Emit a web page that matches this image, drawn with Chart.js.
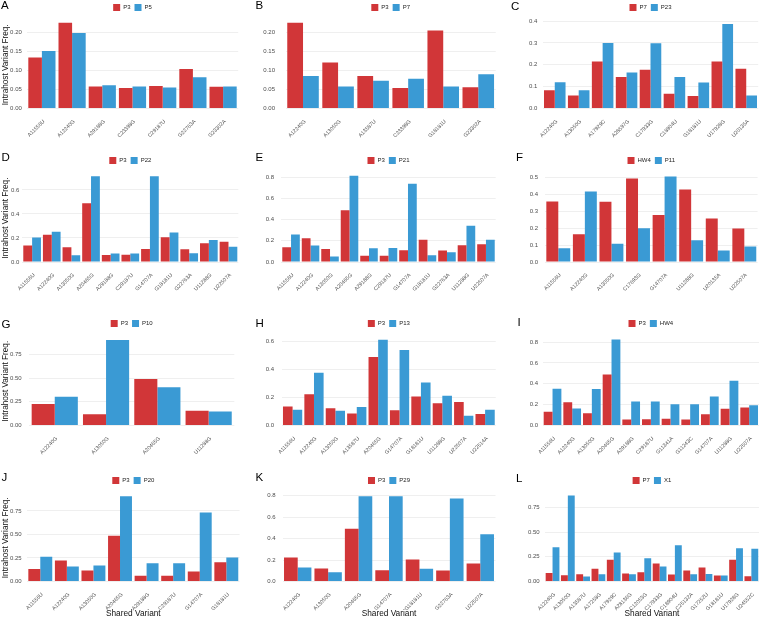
<!DOCTYPE html>
<html>
<head>
<meta charset="utf-8">
<script src="https://cdn.jsdelivr.net/npm/chart.js@4.4.1/dist/chart.umd.min.js"></script>
<style>
  body { margin: 0; background: #fff; width: 762px; height: 619px; overflow: hidden; position: relative; font-family: "Liberation Sans", Arial, sans-serif; }
  canvas { position: absolute; }
  .tag { position: absolute; font-size: 11.5px; line-height: 11.5px; color: #000; }
</style>
</head>
<body>
<script>
// ---- data ----
const catsA = ["A11556U", "A12240G", "A29188G", "C23398G", "C29187U", "G22763A", "G23302A"];
const namesA = ["P3", "P5"];
const firstA = [0.134, 0.225, 0.058, 0.054, 0.059, 0.104, 0.057];
const secondA = [0.151, 0.198, 0.061, 0.058, 0.055, 0.082, 0.058];
const yTicksA = ["0.00", "0.05", "0.10", "0.15", "0.20"];

const catsB = ["A12240G", "A13050G", "A13587U", "C23398G", "G18181U", "G23302A"];
const namesB = ["P3", "P7"];
const firstB = [0.225, 0.121, 0.085, 0.054, 0.205, 0.056];
const secondB = [0.085, 0.058, 0.073, 0.078, 0.058, 0.090];
const yTicksB = ["0.00", "0.05", "0.10", "0.15", "0.20"];

const catsC = ["A12240G", "A13050G", "A17929C", "A28597G", "C17933G", "C18904U", "G18181U", "U17928G", "U20135A"];
const namesC = ["P7", "P23"];
const firstC = [0.084, 0.059, 0.215, 0.144, 0.177, 0.068, 0.057, 0.215, 0.182];
const secondC = [0.120, 0.084, 0.300, 0.165, 0.298, 0.144, 0.119, 0.386, 0.060];
const yTicksC = ["0.0", "0.1", "0.2", "0.3", "0.4"];

const catsD = ["A11556U", "A12240G", "A13050G", "A20465G", "A29188G", "C29187U", "G14707A", "G18181U", "G22763A", "U11288G", "U22507A"];
const namesD = ["P3", "P22"];
const firstD = [0.137, 0.226, 0.123, 0.489, 0.059, 0.061, 0.109, 0.207, 0.106, 0.156, 0.168];
const secondD = [0.204, 0.251, 0.056, 0.715, 0.070, 0.070, 0.715, 0.246, 0.073, 0.184, 0.126];
const yTicksD = ["0.0", "0.2", "0.4", "0.6"];

const catsE = ["A11556U", "A12240G", "A13050G", "A20465G", "A29188G", "C29187U", "G14707A", "G18181U", "G22763A", "U11288G", "U22507A"];
const namesE = ["P3", "P21"];
const firstE = [0.139, 0.225, 0.123, 0.487, 0.060, 0.060, 0.111, 0.209, 0.108, 0.158, 0.168];
const secondE = [0.259, 0.155, 0.051, 0.813, 0.130, 0.133, 0.737, 0.063, 0.092, 0.342, 0.209];
const yTicksE = ["0.0", "0.2", "0.4", "0.6", "0.8"];

const catsF = ["A11556U", "A12240G", "A13050G", "C17693G", "G14707A", "U11288G", "U20135A", "U22507A"];
const namesF = ["HW4", "P11"];
const firstF = [0.356, 0.163, 0.354, 0.492, 0.276, 0.427, 0.256, 0.197];
const secondF = [0.081, 0.415, 0.108, 0.199, 0.504, 0.128, 0.067, 0.091];
const yTicksF = ["0.0", "0.1", "0.2", "0.3", "0.4", "0.5"];

const catsG = ["A12240G", "A13050G", "A20465G", "U11288G"];
const namesG = ["P3", "P10"];
const firstG = [0.226, 0.120, 0.492, 0.156];
const secondG = [0.304, 0.902, 0.403, 0.149];
const yTicksG = ["0.00", "0.25", "0.50", "0.75"];

const catsH = ["A11556U", "A12240G", "A13050G", "A13587U", "A20465G", "G14707A", "G18181U", "U11288G", "U22507A", "U22514A"];
const namesH = ["P3", "P13"];
const firstH = [0.136, 0.222, 0.122, 0.086, 0.488, 0.108, 0.206, 0.158, 0.167, 0.081];
const secondH = [0.112, 0.376, 0.105, 0.132, 0.610, 0.538, 0.306, 0.211, 0.069, 0.112];
const yTicksH = ["0.0", "0.2", "0.4", "0.6"];

const catsI = ["A11556U", "A12240G", "A13050G", "A20465G", "A29188G", "C29187U", "G11341A", "G11243C", "G14707A", "U11288G", "U22507A"];
const namesI = ["P3", "HW4"];
const firstI = [0.131, 0.224, 0.118, 0.490, 0.058, 0.061, 0.064, 0.058, 0.109, 0.160, 0.173];
const secondI = [0.352, 0.163, 0.349, 0.826, 0.230, 0.230, 0.205, 0.205, 0.278, 0.429, 0.195];
const yTicksI = ["0.0", "0.2", "0.4", "0.6", "0.8"];

const catsJ = ["A11556U", "A12240G", "A13050G", "A20465G", "A29188G", "C29187U", "G14707A", "G18181U"];
const namesJ = ["P3", "P20"];
const firstJ = [0.134, 0.222, 0.116, 0.486, 0.060, 0.060, 0.106, 0.204];
const secondJ = [0.264, 0.158, 0.169, 0.905, 0.194, 0.194, 0.732, 0.254];
const yTicksJ = ["0.00", "0.25", "0.50", "0.75"];

const catsK = ["A12240G", "A13050G", "A20465G", "G14707A", "G18181U", "G22763A", "U22507A"];
const namesK = ["P3", "P29"];
const firstK = [0.223, 0.121, 0.490, 0.105, 0.205, 0.102, 0.167];
const secondK = [0.130, 0.087, 0.794, 0.794, 0.118, 0.772, 0.440];
const yTicksK = ["0.0", "0.2", "0.4", "0.6", "0.8"];

const catsL = ["A12240G", "A13050G", "A13587U", "A17258G", "A17929C", "A28136G", "C12053G", "C17933G", "C18904U", "C25132A", "G17252U", "G18181U", "U17928G", "U24552C"];
const namesL = ["P7", "X1"];
const firstL = [0.087, 0.064, 0.074, 0.128, 0.219, 0.081, 0.094, 0.182, 0.071, 0.111, 0.141, 0.061, 0.219, 0.054];
const secondL = [0.346, 0.868, 0.050, 0.074, 0.293, 0.074, 0.235, 0.151, 0.367, 0.074, 0.077, 0.061, 0.336, 0.330];
const yTicksL = ["0.00", "0.25", "0.50", "0.75"];

const yTitle = "Intrahost Variant Freq.";
const xTitle = "Shared Variant";

// ---- look ----
const RED = "#D13638";
const BLUE = "#3A9AD4";
const TICK_GREY = "#4D4D4D";

Chart.defaults.font.family = "'Liberation Sans', Arial, sans-serif";
Chart.defaults.animation = false;

// plot area of each panel in page pixels (cell = left edge of its column)
const rows = [
  { top: 21, bottom: 108.5, xh: 37.5 },
  { top: 174, bottom: 262, xh: 38 },
  { top: 337, bottom: 425.5, xh: 37.5 },
  { top: 494, bottom: 581.5, xh: 37.5 }
];
const LEGEND_H = 21;

const panels = [
  { tag: "A", row: 0, cell: 0,   left: 26.8,  right: 238.2, max: 0.2297, gap: 5,   tx: 1,   ty: 10,    cats: catsA, names: namesA, a: firstA, b: secondA, yt: yTicksA },
  { tag: "B", row: 0, cell: 254, left: 285.5, right: 495.8, max: 0.2297, gap: 10.5, tx: 255.5, ty: 10, cats: catsB, names: namesB, a: firstB, b: secondB, yt: yTicksB },
  { tag: "C", row: 0, cell: 508, left: 542.8, right: 758.2, max: 0.4,    gap: 5.5, tx: 511, ty: 10.5,  cats: catsC, names: namesC, a: firstC, b: secondC, yt: yTicksC },
  { tag: "D", row: 1, cell: 0,   left: 22.3,  right: 238.3, max: 0.733,  gap: 3,   tx: 1.5, ty: 161.3, cats: catsD, names: namesD, a: firstD, b: secondD, yt: yTicksD },
  { tag: "E", row: 1, cell: 254, left: 281.3, right: 495.7, max: 0.83,   gap: 7.3, tx: 255.5, ty: 161.3, cats: catsE, names: namesE, a: firstE, b: secondE, yt: yTicksE },
  { tag: "F", row: 1, cell: 508, left: 545,   right: 757.6, max: 0.518,  gap: 7,   tx: 516, ty: 161.3, cats: catsF, names: namesF, a: firstF, b: secondF, yt: yTicksF },
  { tag: "G", row: 2, cell: 0,   left: 29.1,  right: 234.3, max: 0.935,  gap: 7.4, tx: 1.5, ty: 329,   cats: catsG, names: namesG, a: firstG, b: secondG, yt: yTicksG },
  { tag: "H", row: 2, cell: 254, left: 281.9, right: 495.8, max: 0.63,   gap: 7.9, tx: 255.5, ty: 327.3, cats: catsH, names: namesH, a: firstH, b: secondH, yt: yTicksH },
  { tag: "I", row: 2, cell: 508, left: 542.7, right: 759,   max: 0.849,  gap: 4.7, tx: 517.5, ty: 326.3, cats: catsI, names: namesI, a: firstI, b: secondI, yt: yTicksI },
  { tag: "J", row: 3, cell: 0,   left: 27,    right: 239.6, max: 0.929,  gap: 5.3, tx: 1.5, ty: 481.3, cats: catsJ, names: namesJ, a: firstJ, b: secondJ, yt: yTicksJ },
  { tag: "K", row: 3, cell: 254, left: 282.5, right: 495.5, max: 0.814,  gap: 6.8, tx: 255.5, ty: 481.3, cats: catsK, names: namesK, a: firstK, b: secondK, yt: yTicksK },
  { tag: "L", row: 3, cell: 508, left: 544.9, right: 759,   max: 0.884,  gap: 5.2, tx: 516, ty: 483,   cats: catsL, names: namesL, a: firstL, b: secondL, yt: yTicksL }
];

function makePanel(p) {
  const r = rows[p.row];
  const top = r.top - LEGEND_H;
  const width = 254;
  const height = Math.round(r.bottom + r.xh - top);

  const canvas = document.createElement("canvas");
  canvas.width = width;
  canvas.height = height;
  canvas.style.left = p.cell + "px";
  canvas.style.top = top + "px";
  canvas.style.width = width + "px";
  canvas.style.height = height + "px";
  document.body.appendChild(canvas);

  const tag = document.createElement("div");
  tag.className = "tag";
  tag.textContent = p.tag;
  tag.style.left = p.tx + "px";
  tag.style.top = (p.ty - 9.7) + "px";
  document.body.appendChild(tag);

  const leftCol = p.cell === 0;
  const bottomRow = p.row === 3;
  const tickValues = p.yt.map((t) => parseFloat(t));

  new Chart(canvas.getContext("2d"), {
    type: "bar",
    data: {
      labels: p.cats,
      datasets: [
        { label: p.names[0], data: p.a, backgroundColor: RED, borderWidth: 0 },
        { label: p.names[1], data: p.b, backgroundColor: BLUE, borderWidth: 0 }
      ]
    },
    options: {
      responsive: false,
      devicePixelRatio: 1,
      datasets: { bar: { categoryPercentage: 0.9, barPercentage: 1.0 } },
      layout: { padding: { left: 0, top: 0, bottom: 0, right: width - (p.right - p.cell) } },
      plugins: {
        tooltip: { enabled: false },
        legend: {
          position: "top",
          fullSize: false,
          labels: { boxWidth: 7, boxHeight: 7, padding: 4, color: "#222", font: { size: 6 } }
        }
      },
      scales: {
        x: {
          grid: { display: false },
          border: { display: false },
          ticks: {
            autoSkip: false,
            maxRotation: 45,
            minRotation: 45,
            padding: 2,
            labelOffset: 2,
            color: TICK_GREY,
            font: { size: 5.3 }
          },
          title: {
            display: bottomRow,
            text: xTitle,
            color: "#111",
            font: { size: 8.3 },
            padding: { top: 0, bottom: 0 }
          },
          afterFit: (s) => { s.height = r.xh; }
        },
        y: {
          min: 0,
          max: p.max,
          grid: { color: "#EBEBEB", lineWidth: 0.8, drawTicks: false },
          border: { display: false },
          ticks: {
            padding: p.gap,
            color: TICK_GREY,
            font: { size: 6 },
            callback: (v, i) => p.yt[i]
          },
          afterBuildTicks: (s) => { s.ticks = tickValues.map((v) => ({ value: v })); },
          title: {
            display: leftCol,
            text: yTitle,
            color: "#111",
            font: { size: 8.2 },
            padding: { top: 0.5, bottom: 0 }
          },
          afterFit: (s) => { s.width = p.left - p.cell; }
        }
      }
    }
  });
}

panels.forEach(makePanel);
</script>
</body>
</html>
